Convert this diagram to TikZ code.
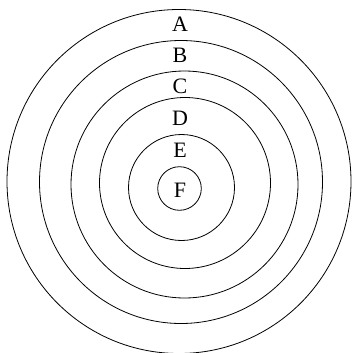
\documentclass[tikz,border=0pt]{standalone}
\usepackage{fontspec}
\setmainfont{Liberation Serif}
\usepackage{tikz}
\usetikzlibrary{positioning}
\tikzset{
  ring/.style={black,line width=0.8pt},
  lab/.style={font=\fontsize{22}{22}\selectfont,inner sep=0pt},
}
\begin{document}
\begin{tikzpicture}[x=1pt,y=-1pt]
  \path[use as bounding box] (0,0) rectangle (352,353);
  % nested rings, outermost first
  \draw[ring] (179,181.5) circle[radius=172];
  \draw[ring] (181,182) circle[radius=141.5];
  \draw[ring] (184.5,184.5) circle[radius=113.5];
  \draw[ring] (185,183) circle[radius=85.5];
  \draw[ring] (181.5,187.5) circle[radius=53];
  \draw[ring] (179.5,188.5) circle[radius=21.8];

  \node[lab] (a) at (180,24.5) {A};
  \node[lab] (b) at (180,55) {B};
  \node[lab] (c) at (180,86) {C};
  \node[lab] (d) at (180,118) {D};
  \node[lab] (e) at (180,150) {E};
  \node[lab] (f) at (180,190) {F};
\end{tikzpicture}
\end{document}
